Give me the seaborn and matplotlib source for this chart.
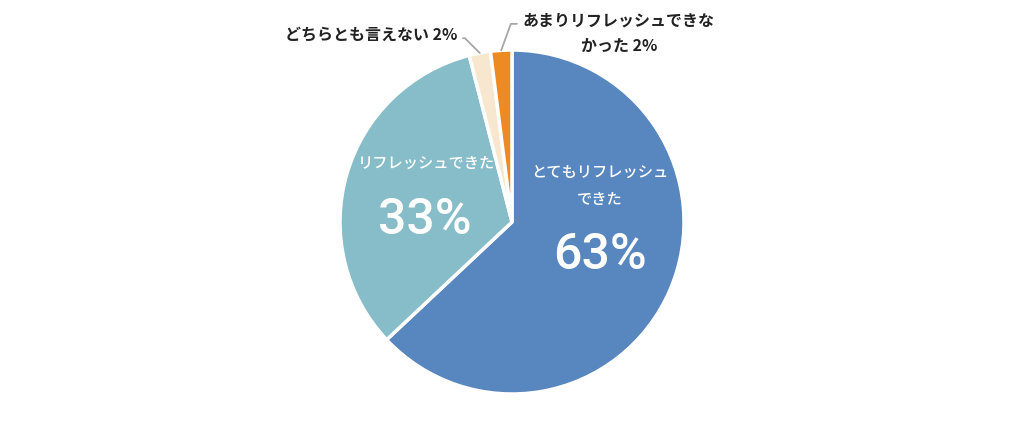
import numpy as np
import matplotlib
matplotlib.use("Agg")
import matplotlib.pyplot as plt
import seaborn as sns

# survey answers, clockwise from the top
labels = ["とてもリフレッシュ\nできた", "リフレッシュできた", "どちらとも言えない", "あまりリフレッシュできな\nかった"]
values = [63, 33, 2, 2]
colors = ["#5886BF", "#87BDC8", "#F8E7CF", "#EE8A22"]

sns.set_theme(style="white")
plt.rcParams['font.family'] = ['Noto Sans CJK JP', 'DejaVu Sans']

W, H = 1024, 445
fig = plt.figure(figsize=(W / 100, H / 100), dpi=100)
ax = fig.add_axes([0, 0, 1, 1])

# work in pixel-like data units so the pie sits where it does in the original
cx, cy, r = 512, H - 222, 172
wedges, _ = ax.pie(
    values,
    colors=colors,
    startangle=90,
    counterclock=False,
    center=(cx, cy),
    radius=r,
    wedgeprops=dict(edgecolor="white", linewidth=2.5),
)
ax.set_xlim(0, W)
ax.set_ylim(0, H)
ax.set_aspect("equal")
ax.axis("off")

# big slices: white labels inside
inner = [
    # (title offset, value offset) in radius units
    ((0.51, 0.21), (0.51, -0.19)),
    ((-0.50, 0.34), (-0.51, 0.01)),
]
for i, ((tx, ty), (vx, vy)) in enumerate(inner):
    ax.text(cx + tx * r, cy + ty * r, labels[i], color="white", fontsize=11,
            fontweight="medium", ha="center", va="center", linespacing=1.85)
    ax.text(cx + vx * r, cy + vy * r, f"{values[i]}%", color="white", fontsize=36,
            fontweight="medium", ha="center", va="center",
            family=["Roboto", "Noto Sans CJK JP"])

# small slices: black labels outside with grey leader lines
outer = [
    # text position, ha, relpos, connection
    ((457, H - 35), "right", (1, 0.3), "angle,angleA=0,angleB=-45,rad=0"),
    ((619, H - 33), "center", (0, 0.72), "angle,angleA=180,angleB=70,rad=0"),
]
for i, (pos, ha, relpos, conn) in zip([2, 3], outer):
    w = wedges[i]
    mid = np.deg2rad((w.theta1 + w.theta2) / 2)
    pt = (cx + r * np.cos(mid), cy + r * np.sin(mid))
    ax.annotate(
        f"{labels[i]} {values[i]}%",
        xy=pt,
        xytext=pos,
        ha=ha,
        va="center",
        fontsize=11.5,
        fontweight="bold",
        color="#222222",
        linespacing=1.75,
        arrowprops=dict(arrowstyle="-", color="#A6A6A6", lw=1.3, shrinkA=2, shrinkB=0,
                        relpos=relpos, connectionstyle=conn),
    )

fig.savefig("out.png", dpi=100, facecolor="white")
